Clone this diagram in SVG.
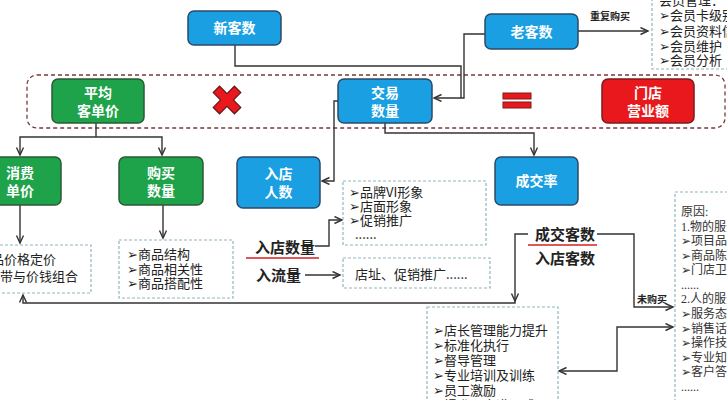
<svg xmlns="http://www.w3.org/2000/svg" width="727" height="400" viewBox="0 0 727 400">
<defs>
<marker id="ar" markerUnits="userSpaceOnUse" markerWidth="10" markerHeight="10" refX="8" refY="4" orient="auto-start-reverse">
<path d="M0.5,0.5 L8,4 L0.5,7.5" fill="none" stroke="#333" stroke-width="1.4"/>
</marker>
</defs>
<style>
.bl{fill:#1a9fe3;stroke:#2c4a68;stroke-width:1.5}
.gr{fill:#1ea24a;stroke:#2c5a36;stroke-width:1.5}
.rd{fill:#e8181c;stroke:#7a1c1c;stroke-width:1.5}
.nt{font-family:"Noto Sans CJK SC","Noto Sans",sans-serif;font-weight:bold;font-size:14px;fill:#fff;text-anchor:middle}
.bx{fill:#fff;stroke:#8fb6bd;stroke-width:1.2;stroke-dasharray:3 2}
.lt{font-family:"Noto Sans CJK SC","Noto Sans",sans-serif;font-size:13px;fill:#222}
.st{font-family:"Liberation Serif","Noto Sans CJK SC",serif;font-size:12px;fill:#333}
.bd{font-family:"Noto Sans CJK SC","Noto Sans",sans-serif;font-weight:bold;font-size:15px;fill:#222}
.sm{font-family:"Noto Sans CJK SC","Noto Sans",sans-serif;font-weight:bold;font-size:10px;fill:#222}
.cn{fill:none;stroke:#333;stroke-width:1.4}
</style>
<rect width="727" height="400" fill="#fff"/>
<rect id="band" x="27" y="75" width="698" height="53" rx="10" fill="none" stroke="#7a3a3a" stroke-width="1.3" stroke-dasharray="4 3"/>
<g id="connectors">
<path class="cn" d="M235,45 V66 H461 V98"/>
<path class="cn" d="M485,34 H464 V98 H434" marker-end="url(#ar)"/>
<path class="cn" d="M96,123 V137"/>
<path class="cn" d="M20,155 V137 H162 V155" marker-end="url(#ar)" marker-start="url(#ar)"/>
<path class="cn" d="M20,205 V243" marker-end="url(#ar)"/>
<path class="cn" d="M163,205 V238" marker-end="url(#ar)"/>
<path class="cn" d="M338,101 H334 V181 H322" marker-end="url(#ar)"/>
<path class="cn" d="M385,123 V133 H534 V155" marker-end="url(#ar)"/>
<path class="cn" d="M578,31 H648" marker-end="url(#ar)"/>
<path class="cn" d="M315,246 H329 V220 H342" marker-end="url(#ar)"/>
<path class="cn" d="M305,275 H340" marker-end="url(#ar)"/>
<path class="cn" d="M528,234 H515 V301" marker-end="url(#ar)"/>
<path class="cn" d="M515,301 V303 H23 V295" marker-end="url(#ar)"/>
<path class="cn" d="M597,234 H634 V307 H673" marker-end="url(#ar)"/>
<path class="cn" d="M559,371 H617 V327 H673" marker-end="url(#ar)" marker-start="url(#ar)"/>
</g>
<g id="xinke"><rect class="bl" x="188" y="11" width="93" height="34" rx="6"/><text class="nt" x="234.5" y="33">新客数</text></g>
<g id="laoke"><rect class="bl" x="485" y="14" width="93" height="35" rx="6"/><text class="nt" x="531.5" y="36.5">老客数</text></g>
<text class="sm" x="590" y="20">重复购买</text>
<g id="member"><rect class="bx" x="652" y="-8" width="90" height="77"/>
<text class="lt" font-size="14" x="659" y="5">会员管理：</text>
<text class="lt" font-size="14" x="659" y="20">➢会员卡级别</text>
<text class="lt" font-size="14" x="659" y="36">➢会员资料信息</text>
<text class="lt" font-size="14" x="659" y="51">➢会员维护</text>
<text class="lt" font-size="14" x="659" y="65">➢会员分析</text></g>
<g id="pingjun"><rect class="gr" x="52" y="79" width="92" height="44" rx="6"/><text class="nt" x="98" y="98">平均</text><text class="nt" x="98" y="116">客单价</text></g>
<g id="times"><polygon transform="translate(227,100) rotate(45)" points="-4.5,-15 4.5,-15 4.5,-4.5 15,-4.5 15,4.5 4.5,4.5 4.5,15 -4.5,15 -4.5,4.5 -15,4.5 -15,-4.5 -4.5,-4.5" fill="#e8181c" stroke="#6a1515" stroke-width="1.2"/></g>
<g id="jiaoyi"><rect class="bl" x="338" y="79" width="94" height="44" rx="6"/><text class="nt" x="385" y="98">交易</text><text class="nt" x="385" y="116">数量</text></g>
<g id="equals"><rect x="503" y="93" width="28" height="6" fill="#e8181c" stroke="#7a1c1c"/><rect x="503" y="102" width="28" height="6" fill="#e8181c" stroke="#7a1c1c"/></g>
<g id="yingye"><rect class="rd" x="602" y="79" width="92" height="44" rx="6"/><text class="nt" x="648" y="98">门店</text><text class="nt" x="648" y="116">营业额</text></g>
<g id="xiaofei"><rect class="gr" x="-22" y="157" width="83" height="48" rx="6"/><text class="nt" x="20" y="178">消费</text><text class="nt" x="20" y="196">单价</text></g>
<g id="goumai"><rect class="gr" x="119" y="157" width="84" height="48" rx="6"/><text class="nt" x="161" y="178">购买</text><text class="nt" x="161" y="196">数量</text></g>
<g id="rudianrenshu"><rect class="bl" x="237" y="157" width="83" height="51" rx="6"/><text class="nt" x="278.5" y="179">入店</text><text class="nt" x="278.5" y="197">人数</text></g>
<g id="chengjiaolv"><rect class="bl" x="495" y="157" width="83" height="48" rx="6"/><text class="nt" x="536.5" y="186">成交率</text></g>
<g id="jiage"><rect class="bx" x="-40" y="245" width="131" height="48"/>
<text class="lt" font-size="14" x="-22" y="264">商品价格定价</text>
<text class="lt" font-size="14" x="-26" y="281">价格带与价钱组合</text></g>
<g id="shangpin"><rect class="bx" x="119" y="240" width="114" height="58"/>
<text class="lt" x="127" y="259">➢商品结构</text>
<text class="lt" x="127" y="274">➢商品相关性</text>
<text class="lt" x="127" y="288">➢商品搭配性</text></g>
<g id="pinpai"><rect class="bx" x="343" y="181" width="143" height="64"/>
<text class="lt" x="349" y="197">➢品牌VI形象</text>
<text class="lt" x="349" y="211">➢店面形象</text>
<text class="lt" x="349" y="225">➢促销推广</text>
<text class="lt" x="355" y="239">......</text></g>
<text class="bd" x="255" y="253">入店数量</text>
<line x1="246" y1="258" x2="319" y2="258" stroke="#d42020" stroke-width="1.5"/>
<text class="bd" x="256" y="281">入流量</text>
<g id="dianzhi"><rect class="bx" x="343" y="258" width="147" height="30"/>
<text class="lt" x="355" y="279">店址、促销推广......</text></g>
<text class="bd" x="535" y="240">成交客数</text>
<line x1="528" y1="245" x2="597" y2="245" stroke="#d42020" stroke-width="1.5"/>
<text class="bd" x="535" y="264">入店客数</text>
<text class="sm" x="637" y="303">未购买</text>
<g id="dianzhang"><rect class="bx" x="427" y="307" width="131" height="110"/>
<text class="lt" font-size="14" x="433" y="335">➢店长管理能力提升</text>
<text class="lt" font-size="14" x="433" y="350">➢标准化执行</text>
<text class="lt" font-size="14" x="433" y="365">➢督导管理</text>
<text class="lt" font-size="14" x="433" y="380">➢专业培训及训练</text>
<text class="lt" font-size="14" x="433" y="395">➢员工激励</text>
<text class="lt" font-size="14" x="433" y="410">➢提升顾客满足感</text></g>
<g id="yuanyin"><rect class="bx" x="675" y="192" width="80" height="220"/>
<text class="st" x="681" y="216">原因:</text>
<text class="st" x="681" y="231">1.物的服务</text>
<text class="st" x="681" y="245">➢项目品质</text>
<text class="st" x="681" y="260">➢商品陈列</text>
<text class="st" x="681" y="274">➢门店卫生</text>
<text class="st" x="681" y="289">......</text>
<text class="st" x="681" y="303">2.人的服务</text>
<text class="st" x="681" y="318">➢服务态度</text>
<text class="st" x="681" y="333">➢销售话术</text>
<text class="st" x="681" y="347">➢操作技术</text>
<text class="st" x="681" y="362">➢专业知识</text>
<text class="st" x="681" y="376">➢客户答疑</text>
<text class="st" x="681" y="391">......</text></g>
</svg>
